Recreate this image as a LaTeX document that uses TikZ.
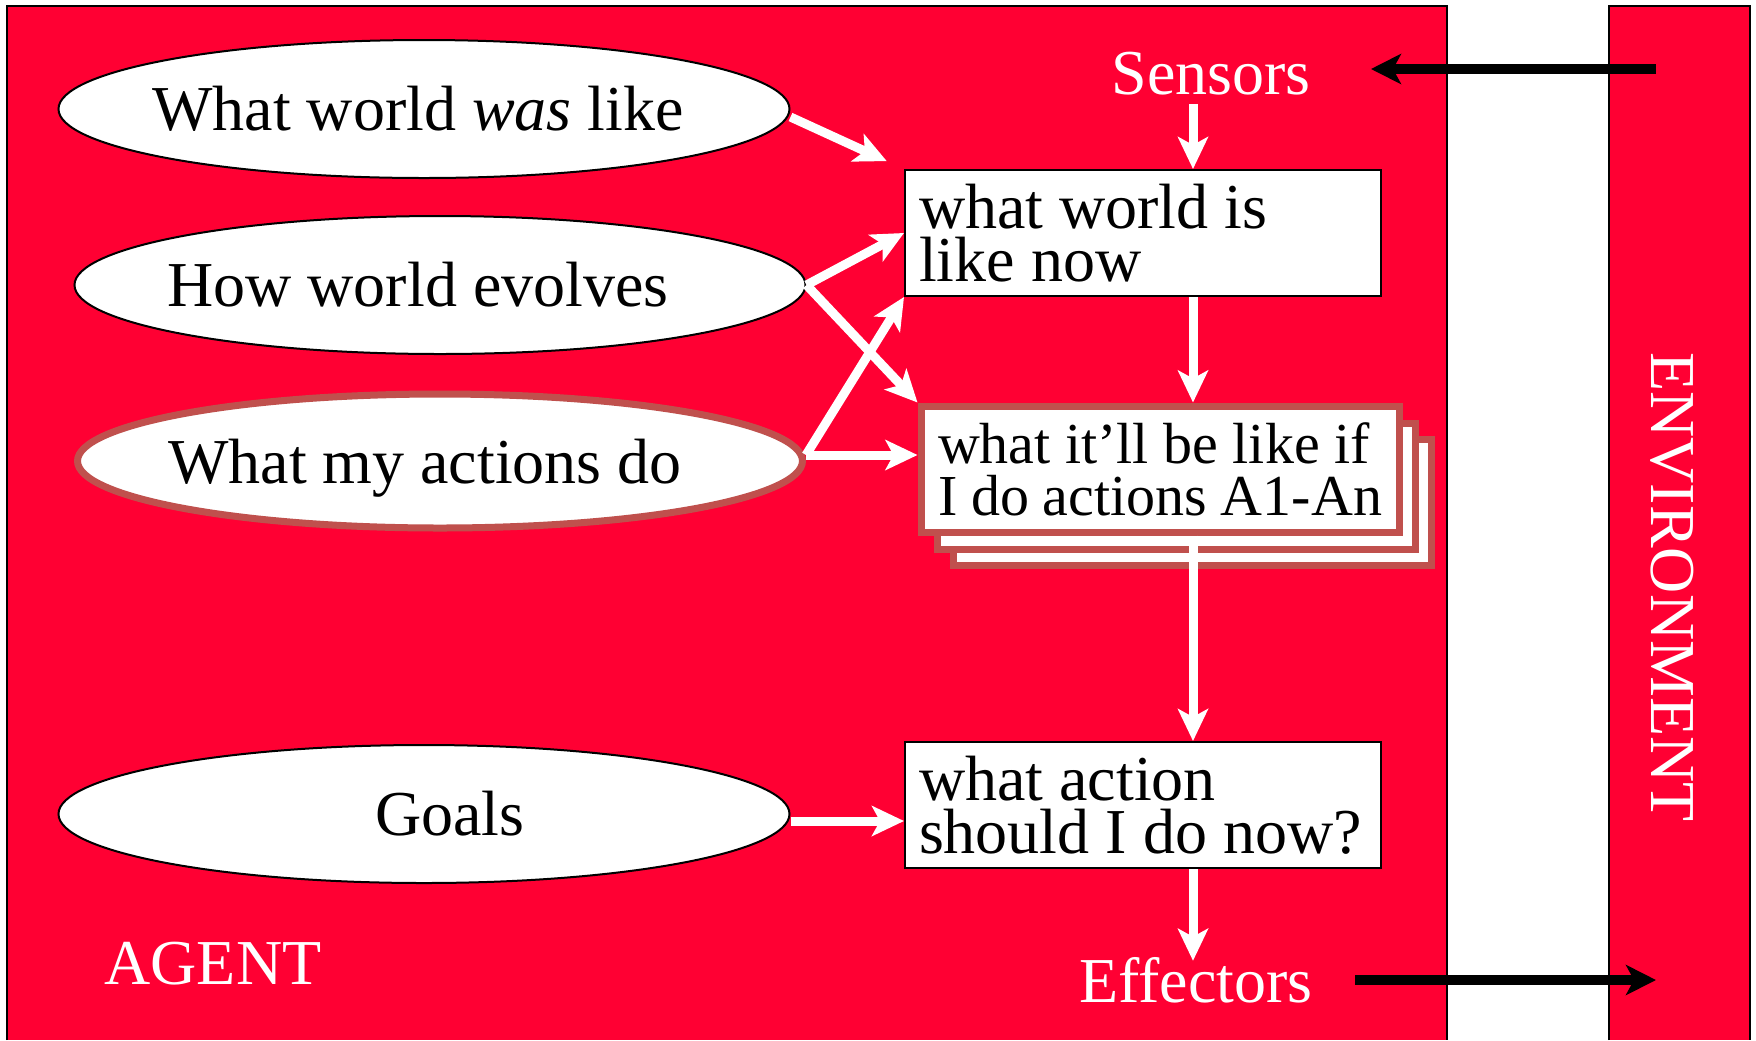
\documentclass[tikz,border=0pt]{standalone}
\usepackage{fontspec}
\setmainfont{Liberation Serif}
\usetikzlibrary{shapes.geometric,shadows,arrows.meta}

\definecolor{agentred}{HTML}{FF0033}
\definecolor{stackbrown}{HTML}{C0504D}
% zero-width text for the ovals, optionally moved sideways
\newcommand{\ovaltext}[2][0pt]{\makebox[0pt][l]{\hspace*{#1}\makebox[0pt]{#2}}}

\begin{document}
\begin{tikzpicture}[x=0.5pt,y=-0.5pt,
    oval/.style={ellipse,draw=black,line width=1pt,fill=white,inner sep=0pt,
      minimum width=365.5pt,minimum height=69pt,font=\fontsize{32}{26.5}\selectfont},
    statebox/.style={rectangle,draw=black,line width=1pt,fill=white,align=left,
      text width=224pt,inner xsep=7pt,minimum height=63pt,font=\fontsize{32}{26.5}\selectfont,
      execute at begin node={\spaceskip=0pt\xspaceskip=0pt}},
    whitetext/.style={text=white,inner sep=2pt,font=\fontsize{32}{32}\selectfont},
    flow/.style={draw=white,line width=4.5pt,-{Stealth[length=16pt,width=15pt,inset=4pt]}},
    io/.style={draw=black,line width=5pt,-{Stealth[length=15pt,width=15pt,inset=4pt]}}]
  \useasboundingbox (0,0) rectangle (1756,1040);
  % agent and environment
  \fill[agentred] (7,6) rectangle (1447,1040);
  \draw[line width=1pt] (7,1040) -- (7,6) -- (1447,6) -- (1447,1040);
  \fill[agentred] (1609,6) rectangle (1750,1040);
  \draw[line width=1pt] (1609,1040) -- (1609,6) -- (1750,6) -- (1750,1040);

  \node[oval] (wasLike) at (424,109) {\ovaltext[-3pt]{What world \textit{was} like}};
  \node[oval] (evolves) at (440,285) {\ovaltext[-11pt]{How world evolves}};
  \node[oval,draw=stackbrown,line width=3.5pt,minimum width=362.5pt,minimum height=67pt,text depth=0pt]
    (myActions) at (440,461) {\ovaltext[-7.5pt]{What my actions do}};
  \node[oval] (goals) at (424,814) {\ovaltext[13pt]{Goals}};

  \node[statebox] (worldNow) at (1143,233) {what world is\\like now};
  \node[statebox,draw=stackbrown,line width=3.5pt,text width=222pt,inner xsep=8.5pt,
    font=\fontsize{29}{26}\selectfont,
    copy shadow={shadow xshift=16pt,shadow yshift=-16.5pt,fill=white,draw=stackbrown,line width=3.5pt},
    copy shadow={shadow xshift=8pt,shadow yshift=-8.5pt,fill=white,draw=stackbrown,line width=3.5pt}]
    (ifActions) at (1160,469) {what it’ll be like if\\I do actions A1-An};
  \node[statebox] (whatAction) at (1143,805) {what action\\should I do now?};

  \node[whitetext] (sensors) at (1211,74) {Sensors};
  \node[whitetext] (effectors) at (1196,980) {Effectors};
  \node[whitetext] (agent) at (213,964) {AGENT};
  \node[whitetext,rotate=-90] (environment) at (1672,587) {ENVIRONMENT};

  \coordinate (spine) at (1193,0);
  \coordinate (actOut) at ([yshift=3pt]myActions.east);
  \coordinate (envIn) at (1656,69);
  \coordinate (envOut) at (1656,980);

  \draw[flow,shorten >=9.5pt] ([yshift=-4pt]wasLike.east) -- (worldNow.north west);
  \draw[flow] (evolves.east) -- (worldNow.west);
  \draw[flow] (evolves.east) -- (ifActions.north west);
  \draw[flow] (actOut) -- (worldNow.south west);
  \draw[flow] (actOut) -- (actOut -| ifActions.west);
  \draw[flow] ([yshift=-3.5pt]goals.east) -- ([yshift=-3.5pt]goals.east -| whatAction.west);

  \draw[flow,shorten <=2pt] (spine |- sensors.south) -- (spine |- worldNow.north);
  \draw[flow] (spine |- worldNow.south) -- (spine |- ifActions.north);
  \draw[flow] (spine |- ifActions.south) -- (spine |- whatAction.north);
  \draw[flow,shorten >=-4pt] (spine |- whatAction.south) -- (spine |- effectors.north);

  \draw[io,shorten >=28pt] (envIn) -- (envIn -| sensors.east);
  \draw[io,shorten <=19pt] (effectors.east) -- (envOut);
\end{tikzpicture}
\end{document}
